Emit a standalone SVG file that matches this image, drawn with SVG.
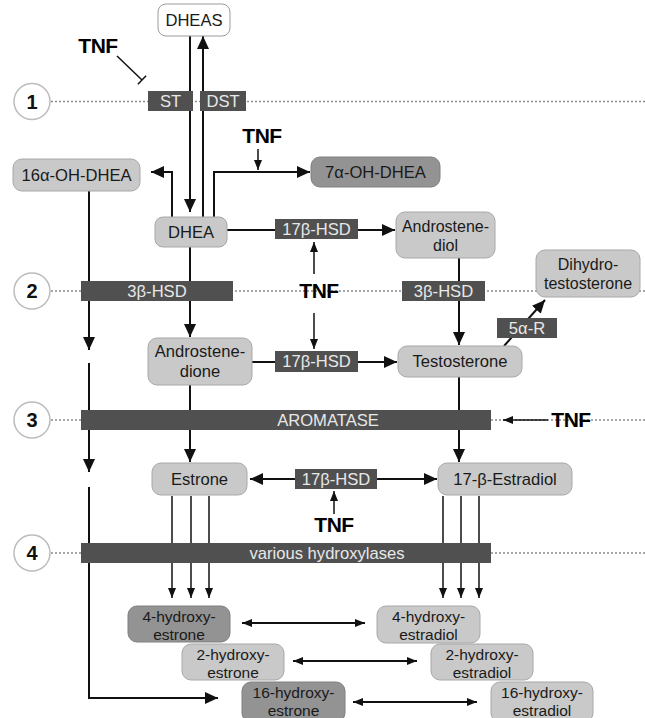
<svg xmlns="http://www.w3.org/2000/svg" width="645" height="718" viewBox="0 0 645 718">
  <style>
    text { font-family: "Liberation Sans", Arial, sans-serif; }
    .lbl { font-size: 16.6px; fill: #1a1a1a; text-anchor: middle; }
    .lbm { font-size: 16px; fill: #1a1a1a; text-anchor: middle; }
    .lbs { font-size: 15.5px; fill: #1a1a1a; text-anchor: middle; }
    .enz { font-size: 16.6px; fill: #e8e8e8; text-anchor: middle; }
    .tnf { font-size: 21px; font-weight: bold; fill: #000; text-anchor: middle; letter-spacing: -0.5px; }
    .num { font-size: 20px; font-weight: bold; fill: #111; text-anchor: middle; }
    .light { fill: #c9c9c9; stroke: #a8a8a8; stroke-width: 1; }
    .dark { fill: #939393; stroke: #808080; stroke-width: 1; }
    .white { fill: #fff; stroke: #999; stroke-width: 1; }
    .bar { fill: #505050; }
    .circ { fill: #fff; stroke: #bcbcbc; stroke-width: 1.5; }
    .dots { stroke: #8a8a8a; stroke-width: 1.5; stroke-dasharray: 2 2; fill: none; }
    .ln { stroke: #111; stroke-width: 2; fill: none; }
    .thin { stroke: #111; stroke-width: 1.5; fill: none; }
    .big { marker-end: url(#ah); }
    .sm { marker-end: url(#as); }
  </style>
  <defs>
    <marker id="ah" viewBox="0 0 13 12" refX="13" refY="6" markerWidth="13" markerHeight="12" markerUnits="userSpaceOnUse" orient="auto-start-reverse">
      <path d="M0,0 L13,6 L0,12 z" fill="#111"/>
    </marker>
    <marker id="as" viewBox="0 0 10 8" refX="10" refY="4" markerWidth="10" markerHeight="8" markerUnits="userSpaceOnUse" orient="auto-start-reverse">
      <path d="M0,0 L10,4 L0,8 z" fill="#111"/>
    </marker>
  </defs>

  <!-- compartment rows -->
  <g id="rows">
    <line class="dots" x1="51" y1="101.5" x2="645" y2="101.5"/>
    <line class="dots" x1="51" y1="291" x2="645" y2="291"/>
    <line class="dots" x1="51" y1="420" x2="645" y2="420"/>
    <line class="dots" x1="51" y1="553" x2="645" y2="553"/>
    <g id="row1"><circle class="circ" cx="32" cy="101.5" r="18"/><text class="num" x="32" y="108.5">1</text></g>
    <g id="row2"><circle class="circ" cx="32" cy="291" r="18"/><text class="num" x="32" y="298">2</text></g>
    <g id="row3"><circle class="circ" cx="32" cy="420" r="18"/><text class="num" x="32" y="427">3</text></g>
    <g id="row4"><circle class="circ" cx="32" cy="553" r="18"/><text class="num" x="32" y="560">4</text></g>
  </g>

  <!-- connectors -->
  <g id="connectors">
    <path class="ln big" d="M190,36 V212"/>
    <path class="ln big" d="M203,217 V36"/>
    <path class="ln big" d="M172,217 V172 H151"/>
    <path class="ln big" d="M214,217 V172 H310"/>
    <path class="ln big" d="M227,230 H395"/>
    <path class="ln big" d="M190,247 V337"/>
    <path class="ln big" d="M89,191 V350"/>
    <path class="ln big" d="M89,363 V472"/>
    <path class="ln big" d="M89,487 V698 H218"/>
    <path class="ln big" d="M252,362 H397"/>
    <path class="ln big" d="M459,258 V345"/>
    <path class="ln big" d="M504,346 L545,300"/>
    <path class="ln big" d="M190,385 V462"/>
    <path class="ln big" d="M459,377 V462"/>
    <path class="ln big" d="M250,479 H437" marker-start="url(#ah)"/>
    <!-- hydroxylation arrows -->
    <path class="thin sm" d="M172,496 V598"/>
    <path class="thin sm" d="M191,496 V598"/>
    <path class="thin sm" d="M209,496 V598"/>
    <path class="thin sm" d="M443,496 V598"/>
    <path class="thin sm" d="M461,496 V598"/>
    <path class="thin sm" d="M479,496 V598"/>
    <!-- reversible pairs -->
    <path class="ln sm" d="M242,623 H365" marker-start="url(#as)"/>
    <path class="ln sm" d="M293,661 H417" marker-start="url(#as)"/>
    <path class="ln sm" d="M353,702 H477" marker-start="url(#as)"/>
    <!-- TNF effects -->
    <path class="thin" d="M117,56 L142,80 M137.9,84.3 L146.1,75.7"/>
    <path class="thin sm" d="M258,149 V170"/>
    <path class="thin sm" d="M314,274 V242"/>
    <path class="thin sm" d="M314,313 V349"/>
    <path class="thin sm" d="M548,420 H503"/>
    <path class="thin sm" d="M334,514 V491"/>
  </g>

  <!-- metabolites -->
  <g id="dheas"><rect class="white" x="158" y="4" width="72" height="32" rx="8"/><text class="lbl" x="194" y="26">DHEAS</text></g>
  <g id="oh16-dhea"><rect class="light" x="13" y="159" width="127" height="32" rx="9"/><text class="lbl" x="76.5" y="181">16α-OH-DHEA</text></g>
  <g id="oh7-dhea"><rect class="dark" x="311" y="157" width="129" height="30" rx="9"/><text class="lbl" x="375.5" y="178">7α-OH-DHEA</text></g>
  <g id="dhea"><rect class="light" x="155" y="217" width="72" height="30" rx="8"/><text class="lbl" x="191" y="237.5">DHEA</text></g>
  <g id="androstenediol"><rect class="light" x="396" y="212" width="99" height="46" rx="9"/><text class="lbm" x="445.5" y="231.5">Androstene-</text><text class="lbm" x="445.5" y="250.5">diol</text></g>
  <g id="dht"><rect class="light" x="536" y="250" width="104" height="47" rx="9"/><text class="lbm" x="588" y="270">Dihydro-</text><text class="lbm" x="588" y="288.5">testosterone</text></g>
  <g id="androstenedione"><rect class="light" x="148" y="338" width="104" height="47" rx="9"/><text class="lbl" x="200" y="357">Androstene-</text><text class="lbl" x="200" y="376.5">dione</text></g>
  <g id="testosterone"><rect class="light" x="398" y="346" width="124" height="31" rx="9"/><text class="lbl" x="460" y="367">Testosterone</text></g>
  <g id="estrone"><rect class="light" x="152" y="463" width="95" height="32" rx="9"/><text class="lbl" x="199.5" y="484.5">Estrone</text></g>
  <g id="estradiol"><rect class="light" x="438" y="463" width="134" height="32" rx="9"/><text class="lbl" x="505" y="484.5">17-β-Estradiol</text></g>
  <g id="oh4-estrone"><rect class="dark" x="128" y="606" width="102" height="36" rx="9"/><text class="lbs" x="179" y="622">4-hydroxy-</text><text class="lbs" x="179" y="639.5">estrone</text></g>
  <g id="oh2-estrone"><rect class="light" x="182" y="644" width="102" height="36" rx="9"/><text class="lbs" x="233" y="660">2-hydroxy-</text><text class="lbs" x="233" y="677.5">estrone</text></g>
  <g id="oh16-estrone"><rect class="dark" x="242" y="682" width="103" height="40" rx="9"/><text class="lbs" x="293.5" y="698">16-hydroxy-</text><text class="lbs" x="293.5" y="715.5">estrone</text></g>
  <g id="oh4-estradiol"><rect class="light" x="377" y="606" width="103" height="37" rx="9"/><text class="lbs" x="428.5" y="622">4-hydroxy-</text><text class="lbs" x="428.5" y="639.5">estradiol</text></g>
  <g id="oh2-estradiol"><rect class="light" x="431" y="644" width="102" height="36" rx="9"/><text class="lbs" x="482" y="660">2-hydroxy-</text><text class="lbs" x="482" y="677.5">estradiol</text></g>
  <g id="oh16-estradiol"><rect class="light" x="491" y="682" width="102" height="40" rx="9"/><text class="lbs" x="542" y="698">16-hydroxy-</text><text class="lbs" x="542" y="715.5">estradiol</text></g>

  <!-- enzymes -->
  <g id="st"><rect class="bar" x="148" y="91" width="45" height="20"/><text class="enz" x="170.5" y="107">ST</text></g>
  <g id="dst"><rect class="bar" x="200" y="91" width="46" height="20"/><text class="enz" x="223" y="107">DST</text></g>
  <g id="hsd17-a"><rect class="bar" x="275" y="219" width="83" height="20"/><text class="enz" x="316.5" y="235">17β-HSD</text></g>
  <g id="hsd3-a"><rect class="bar" x="81" y="281" width="152" height="20"/><text class="enz" x="157" y="297">3β-HSD</text></g>
  <g id="hsd3-b"><rect class="bar" x="402" y="281" width="83" height="20"/><text class="enz" x="443.5" y="297">3β-HSD</text></g>
  <g id="hsd17-b"><rect class="bar" x="275" y="351" width="83" height="21"/><text class="enz" x="316.5" y="367">17β-HSD</text></g>
  <g id="red5a"><rect class="bar" x="497" y="318" width="60" height="20"/><text class="enz" x="527" y="334">5α-R</text></g>
  <g id="aromatase"><rect class="bar" x="81" y="410" width="410" height="20"/><text class="enz" x="328" y="426">AROMATASE</text></g>
  <g id="hsd17-c"><rect class="bar" x="295" y="469" width="82" height="20"/><text class="enz" x="336" y="485">17β-HSD</text></g>
  <g id="hydroxylases"><rect class="bar" x="81" y="543" width="410" height="20"/><text class="enz" x="327" y="559">various hydroxylases</text></g>

  <!-- TNF -->
  <g id="tnf-1"><text class="tnf" x="98" y="53">TNF</text></g>
  <g id="tnf-2"><text class="tnf" x="262" y="143">TNF</text></g>
  <g id="tnf-3"><text class="tnf" x="319" y="298">TNF</text></g>
  <g id="tnf-4"><text class="tnf" x="571" y="427">TNF</text></g>
  <g id="tnf-5"><text class="tnf" x="334" y="532">TNF</text></g>
</svg>
